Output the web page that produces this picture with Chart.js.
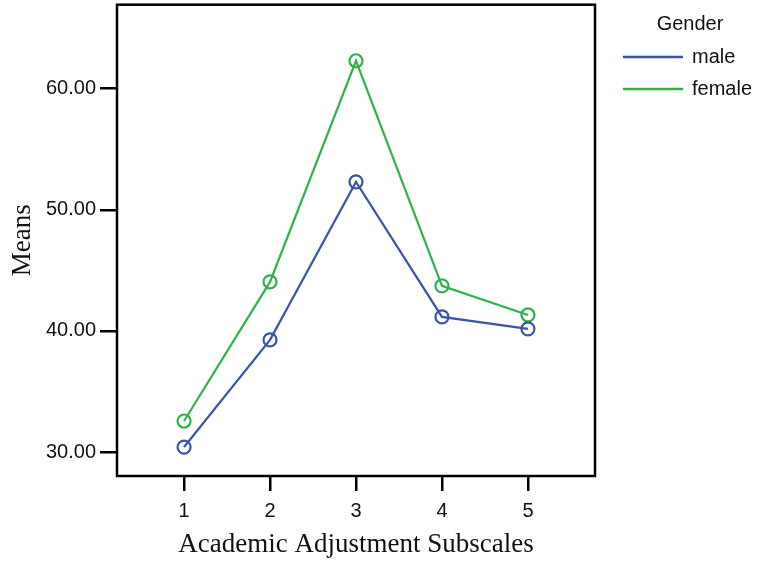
<!DOCTYPE html>
<html>
<head>
<meta charset="utf-8">
<script src="https://cdn.jsdelivr.net/npm/chart.js@4/dist/chart.umd.min.js"></script>
<style>
  html, body { margin: 0; padding: 0; background: #fff; }
  #wrap { width: 760px; height: 563px; overflow: hidden; }
  #chart { display: block; margin-top: -4px; }
</style>
</head>
<body>
<div id="wrap"><canvas id="chart" width="760" height="567"></canvas></div>
<script>
const subscales = [1, 2, 3, 4, 5];
const male = [30.41, 39.26, 52.31, 41.16, 40.17];
const female = [32.56, 44.05, 62.31, 43.72, 41.32];
const yTicks = [30, 40, 50, 60];
const seriesNames = ['male', 'female'];
const seriesColors = ['#3a55a6', '#2eb34a'];

const sans = '"Liberation Sans", Arial, sans-serif';
const serif = '"Liberation Serif", "Times New Roman", serif';

// canvas is shifted up 4px so the plot frame sits near the top edge
const shift = 4;

// frame round the plot and the legend at the right
const framePlugin = {
    id: 'frame',
    afterDatasetsDraw(chart) {
        const { ctx, chartArea: a } = chart;
        ctx.save();
        ctx.strokeStyle = '#000';
        ctx.lineWidth = 2.5;
        ctx.strokeRect(a.left, a.top, a.right - a.left, a.bottom - a.top);

        ctx.font = '20px ' + sans;
        ctx.fillStyle = '#111';
        ctx.textBaseline = 'middle';
        ctx.textAlign = 'center';
        ctx.fillText('Gender', 690, 24 + shift);
        ctx.textAlign = 'left';
        chart.data.datasets.forEach((ds, i) => {
            const y = 57 + i * 32 + shift;
            ctx.strokeStyle = ds.borderColor;
            ctx.lineWidth = 2.5;
            ctx.beginPath();
            ctx.moveTo(623, y);
            ctx.lineTo(683, y);
            ctx.stroke();
            ctx.fillText(ds.label, 692, y);
        });
        ctx.restore();
    }
};

function makeSeries(name, values, color) {
    return {
        label: name,
        data: subscales.map((x, i) => ({ x: x, y: values[i] })),
        borderColor: color,
        backgroundColor: 'transparent',
        borderWidth: 2.2,
        pointRadius: 6.5,
        pointBorderWidth: 2.2,
        pointBackgroundColor: 'transparent',
        pointBorderColor: color,
        tension: 0
    };
}

new Chart(document.getElementById('chart'), {
    type: 'line',
    data: {
        datasets: [
            makeSeries(seriesNames[0], male, seriesColors[0]),
            makeSeries(seriesNames[1], female, seriesColors[1])
        ]
    },
    options: {
        responsive: false,
        animation: false,
        layout: { padding: { top: 1, right: 165, left: 0, bottom: 0 } },
        plugins: {
            legend: { display: false },
            tooltip: { enabled: false }
        },
        scales: {
            x: {
                type: 'linear',
                min: 0.22,
                max: 5.78,
                afterBuildTicks: s => { s.ticks = subscales.map(v => ({ value: v })); },
                afterFit: s => { s.height = 87; s.paddingLeft = 0; s.paddingRight = 0; },
                grid: { drawOnChartArea: false, drawTicks: true, tickLength: 15, color: '#000', lineWidth: 2.5 },
                border: { display: false },
                ticks: {
                    font: { family: sans, size: 20 },
                    color: '#111',
                    padding: 8,
                    callback: v => String(v)
                },
                title: {
                    display: true,
                    text: 'Academic Adjustment Subscales',
                    font: { family: serif, size: 27 },
                    color: '#111',
                    padding: { top: 2, bottom: 2 }
                }
            },
            y: {
                min: 28.02,
                max: 66.94,
                afterBuildTicks: s => { s.ticks = yTicks.map(v => ({ value: v })); },
                afterFit: s => { s.width = 117; s.paddingTop = 0; s.paddingBottom = 0; },
                grid: { drawOnChartArea: false, drawTicks: true, tickLength: 17, color: '#000', lineWidth: 2.5 },
                border: { display: false },
                ticks: {
                    font: { family: sans, size: 20 },
                    color: '#111',
                    padding: 4,
                    callback: v => v.toFixed(2)
                },
                title: {
                    display: true,
                    text: 'Means',
                    font: { family: serif, size: 27 },
                    color: '#111',
                    padding: { top: 7, bottom: 7 }
                }
            }
        }
    },
    plugins: [framePlugin]
});
</script>
</body>
</html>
